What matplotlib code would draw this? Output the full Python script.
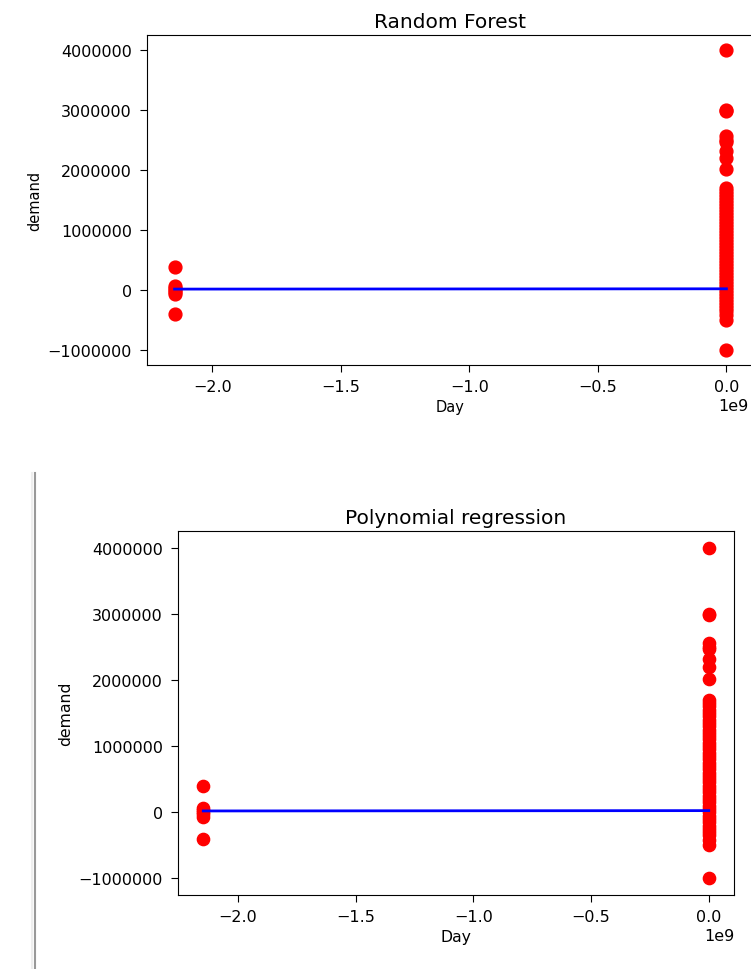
import matplotlib
matplotlib.use("Agg")
import matplotlib.pyplot as plt
from matplotlib.lines import Line2D
import numpy as np

# ---- data ----
day_left = -2147483648          # cluster at about -2.147e9
day_right = 0                   # cluster at about 0

demand_left = [390000, 70000, 40000, 0, -30000, -70000, -400000]
demand_right = [4000000, 3000000, 2980000, 2560000, 2500000, 2460000,
                2320000, 2200000, 2010000,
                1700000, 1650000, 1600000, 1550000, 1500000, 1450000,
                1400000, 1350000, 1300000, 1250000, 1200000, 1150000,
                1100000, 1050000, 1000000, 950000, 900000, 850000,
                800000, 750000, 700000, 650000, 600000, 550000,
                500000, 450000, 400000, 350000, 300000, 250000,
                200000, 150000, 100000, 50000, 0, -50000, -100000,
                -150000, -200000, -250000, -300000, -350000,
                -420000, -500000, -1000000]

pred_days = [day_left, day_right]
rf_pred = [15000, 20000]
poly_pred = [20000, 25000]

titles = ["Random Forest", "Polynomial regression"]
xlabel = "Day"
ylabel = "demand"

# ---- figure ----
W, H = 751, 970
fig = plt.figure(figsize=(W / 100, H / 100), dpi=100)

def px_axes(left, top, right, bottom):
    return fig.add_axes([left / W, 1 - bottom / H, (right - left) / W, (bottom - top) / H])

ax_top = px_axes(147, 36, 754, 366)
ax_bot = px_axes(178, 532, 734, 896)

x_all = [day_left] * len(demand_left) + [day_right] * len(demand_right)
y_all = demand_left + demand_right

for ax, title, pred, lab_size, msize in [(ax_top, titles[0], rf_pred, 10.5, 85),
                                         (ax_bot, titles[1], poly_pred, 11.3, 78)]:
    ax.scatter(x_all, y_all, color="red", s=msize, zorder=2)
    ax.plot(pred_days, pred, color="blue", lw=2.0, zorder=3)
    ax.set_title(title, fontsize=14.5, pad=6)
    ax.set_xlabel(xlabel, fontsize=lab_size)
    ax.set_ylabel(ylabel, fontsize=lab_size)
    ax.ticklabel_format(axis="y", style="plain", useOffset=False)
    ax.tick_params(axis="both", labelsize=11.5, length=4.8, width=0.8)
    ax.tick_params(axis="y", pad=6)
    ax.tick_params(axis="x", pad=5)
    ax.xaxis.get_offset_text().set_fontsize(11.5)

# keep the top offset text inside the canvas
ax_top.xaxis.get_offset_text().set_x((749 - 147) / (754 - 147))

# notebook cell border on the left of the second output
fig.add_artist(Line2D([32 / W, 32 / W], [0, 1 - 474 / H], transform=fig.transFigure,
                      color="#eeeeee", lw=1.5))
fig.add_artist(Line2D([34.5 / W, 34.5 / W], [0, 1 - 474 / H], transform=fig.transFigure,
                      color="#999999", lw=1.5))

fig.savefig("out.png", dpi=100)
